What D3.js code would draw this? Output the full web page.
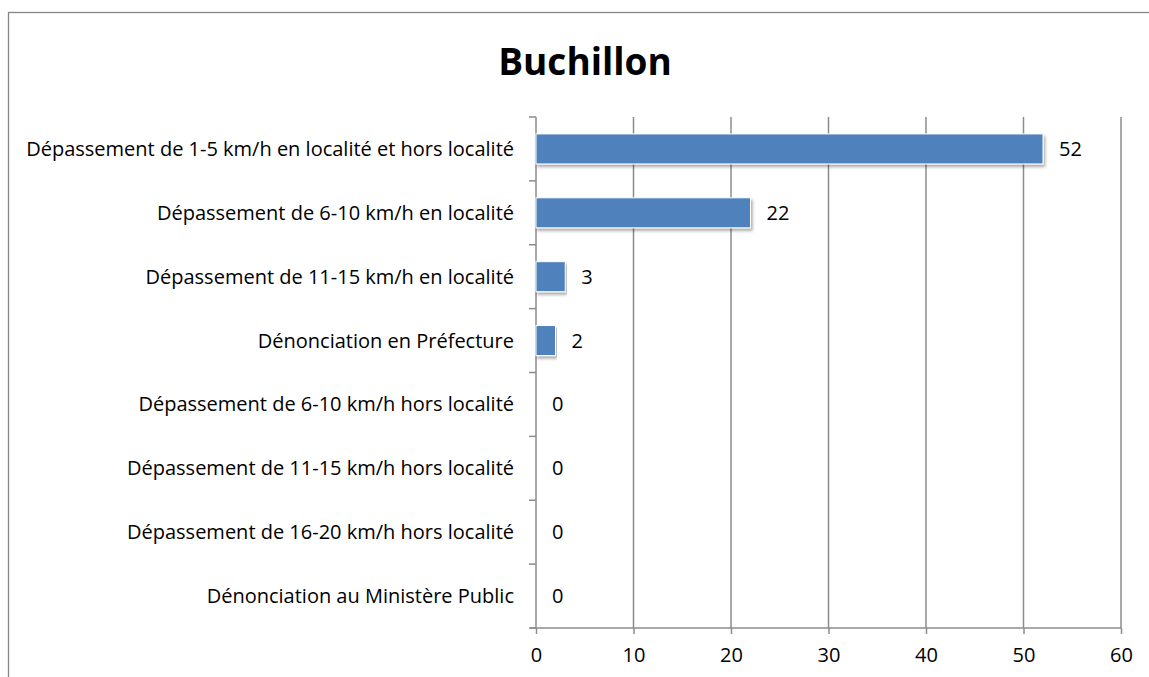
<!DOCTYPE html>
<html><head><meta charset="utf-8">
<script src="https://cdn.jsdelivr.net/npm/d3@7"></script>
<style>body{margin:0;background:#fff;} svg{display:block;font-family:"Open Sans",sans-serif;}</style>
</head><body>
<script>
const title = "Buchillon";
const categories = [
  "Dépassement de 1-5 km/h en localité et hors localité",
  "Dépassement de 6-10 km/h en localité",
  "Dépassement de 11-15 km/h en localité",
  "Dénonciation en Préfecture",
  "Dépassement de 6-10 km/h hors localité",
  "Dépassement de 11-15 km/h hors localité",
  "Dépassement de 16-20 km/h hors localité",
  "Dénonciation au Ministère Public"
];
const values = [52, 22, 3, 2, 0, 0, 0, 0];
const xTicks = [0, 10, 20, 30, 40, 50, 60];

const W = 1149, H = 677;
const FS = 20;
const svg = d3.select("body").append("svg").attr("width", W).attr("height", H);
const defs = svg.append("defs");
const f = defs.append("filter").attr("id","sh").attr("x","-5%").attr("y","-20%").attr("width","110%").attr("height","160%");
f.append("feDropShadow").attr("dx",1.5).attr("dy",2.5).attr("stdDeviation",1.8).attr("flood-color","#000").attr("flood-opacity",0.35);

// frame
svg.append("rect").attr("x",8.5).attr("y",12.5).attr("width",W+20).attr("height",H+20)
  .attr("fill","none").attr("stroke","#868686").attr("stroke-width",1.3);

const L = 536, R = 1121, T = 117, B = 628;
const x = d3.scaleLinear().domain([0,60]).range([L,R]);
const y = d3.scaleBand().domain(categories).range([T,B]).paddingInner(0.53).paddingOuter(0.265);

// gridlines
svg.append("g").selectAll("line").data(xTicks.slice(1)).join("line")
  .attr("x1",d=>x(d)).attr("x2",d=>x(d)).attr("y1",T).attr("y2",B)
  .attr("stroke","#8c8c8c").attr("stroke-width",1.5);

// x axis
const xa = svg.append("g").attr("transform",`translate(0,${B})`)
  .call(d3.axisBottom(x).tickValues(xTicks).tickSize(6).tickPadding(14).tickFormat(d3.format("d")));
xa.select(".domain").attr("stroke","#8c8c8c").attr("stroke-width",1.5).attr("d",`M${L-6},0H${R}`);
xa.selectAll(".tick line").attr("stroke","#8c8c8c").attr("stroke-width",1.5);
xa.selectAll("text").attr("font-size",FS).attr("fill","#000").attr("font-family","Open Sans");

// y axis
const ya = svg.append("g");
ya.append("line").attr("x1",L).attr("x2",L).attr("y1",T).attr("y2",B).attr("stroke","#8c8c8c").attr("stroke-width",1.5);
ya.selectAll("line.tk").data(d3.range(categories.length+1)).join("line").attr("class","tk")
  .attr("x1",L-7).attr("x2",L).attr("y1",i=>T+i*(B-T)/categories.length).attr("y2",i=>T+i*(B-T)/categories.length)
  .attr("stroke","#8c8c8c").attr("stroke-width",1.5);
ya.selectAll("text").data(categories).join("text")
  .attr("x",514).attr("y",d=>y(d)+y.bandwidth()/2).attr("dy","0.35em")
  .attr("text-anchor","end").attr("font-size",FS).attr("fill","#000").text(d=>d);

// bars
svg.append("g").selectAll("rect").data(categories.map((c,i)=>({c,v:values[i]})).filter(d=>d.v>0)).join("rect")
  .attr("x",x(0)).attr("y",d=>y(d.c)).attr("width",d=>x(d.v)-x(0)).attr("height",y.bandwidth())
  .attr("fill","#4f81bd").attr("stroke","#ffffff").attr("stroke-width",1).attr("filter","url(#sh)");

// value labels
svg.append("g").selectAll("text").data(categories.map((c,i)=>({c,v:values[i]}))).join("text")
  .attr("x",d=>x(d.v)+16).attr("y",d=>y(d.c)+y.bandwidth()/2).attr("dy","0.35em")
  .attr("font-size",FS).attr("fill","#000").text(d=>d.v);

// title
svg.append("text").attr("x",585).attr("y",62).attr("dy","0.35em").attr("text-anchor","middle")
  .attr("font-size",37).attr("font-weight","bold").attr("fill","#000").text(title);
</script>
</body></html>
